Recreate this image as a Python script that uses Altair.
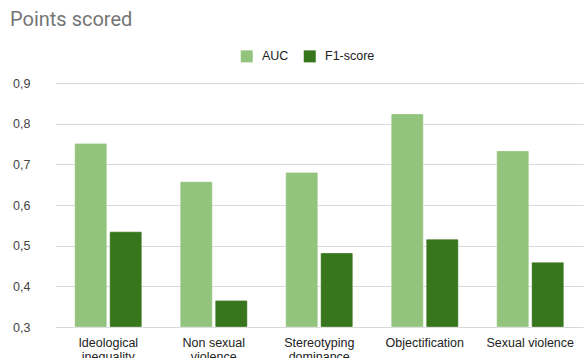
import altair as alt
import pandas as pd

categories = ["Ideological\ninequality", "Non sexual\nviolence", "Stereotyping\ndominance",
              "Objectification", "Sexual violence"]
auc = [0.751, 0.657, 0.680, 0.824, 0.733]
f1 = [0.534, 0.365, 0.482, 0.516, 0.459]
series = ["AUC", "F1-score"]
colors = ["#93c47d", "#38761d"]
y_ticks = [0.3, 0.4, 0.5, 0.6, 0.7, 0.8, 0.9]

rows = []
for c, a, f in zip(categories, auc, f1):
    rows.append({"category": c, "series": series[0], "value": a})
    rows.append({"category": c, "series": series[1], "value": f})
df = pd.DataFrame(rows)

FONT = "Liberation Sans"
TFONT = "Roboto"

chart = alt.Chart(df).mark_bar(cornerRadius=1, stroke="white", strokeOpacity=0.35, strokeWidth=0.8).encode(
    x=alt.X("category:N", sort=categories, title=None,
            scale=alt.Scale(range=[18.5, 546], paddingInner=0.365, paddingOuter=0.1825),
            axis=alt.Axis(labelAngle=0, domain=False, ticks=False, labelPadding=9,
                          labelFont=FONT, labelFontSize=12.5, labelColor="#222222",
                          labelLineHeight=14.5, labelBaseline="top",
                          labelExpr="split(datum.label, '\\n')")),
    xOffset=alt.XOffset("series:N", sort=series,
                        scale=alt.Scale(paddingInner=0.0857, paddingOuter=0)),
    y=alt.Y("value:Q", title=None,
            scale=alt.Scale(domain=[0.3, 0.9], zero=False, nice=False),
            axis=alt.Axis(values=y_ticks, domain=False, ticks=False, labelPadding=7,
                          labelFont=FONT, labelFontSize=12.5, labelColor="#444444",
                          gridColor="#d9d9d9", gridWidth=1,
                          labelExpr="replace(format(datum.value, '.1f'), '.', ',')")),
    y2=alt.datum(0.3),
    color=alt.Color("series:N", sort=series,
                    scale=alt.Scale(domain=series, range=colors),
                    legend=alt.Legend(title=None, orient="none", direction="horizontal",
                                      legendX=203.5, legendY=-33,
                                      symbolType="square", symbolSize=144,
                                      symbolStrokeWidth=0,
                                      labelFont=FONT, labelFontSize=12.5, labelColor="#222222",
                                      labelOffset=9, columnPadding=15)),
).properties(
    width=550,
    height=244,
    title=alt.TitleParams("Points scored", anchor="start", frame="group", font=TFONT,
                          fontSize=20, fontWeight="normal", color="#757575",
                          dx=-27, offset=20),
    padding={"left": 37, "top": 83, "right": 0, "bottom": 31},
    autosize=alt.AutoSizeParams(type="none"),
).configure_view(stroke=None)

chart.save("out.html", embed_options={"renderer": "svg", "actions": False})
